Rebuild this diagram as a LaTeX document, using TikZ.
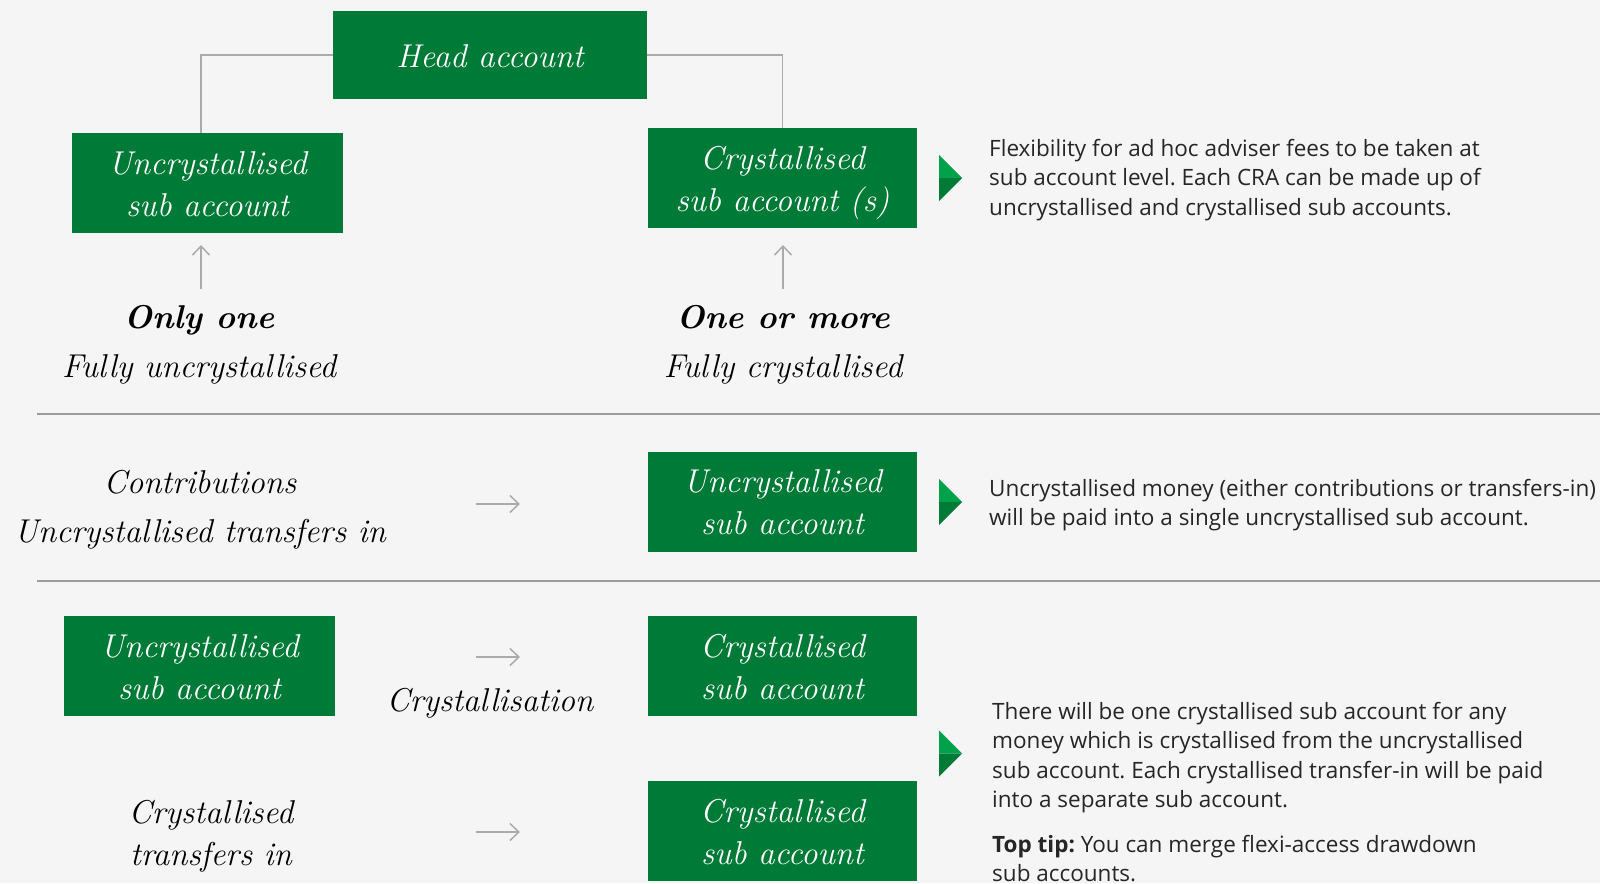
\documentclass[tikz,border=0pt]{standalone}
\usepackage{fontspec}
\newfontfamily\notefont{Open Sans}
\usetikzlibrary{arrows.meta}
\definecolor{acctgreen}{HTML}{007A37}
\definecolor{tipgreen}{HTML}{00A14B}
\definecolor{paper}{HTML}{F5F5F5}
\definecolor{linegrey}{HTML}{ABABAB}
\definecolor{rulegrey}{HTML}{9C9C9C}
\newcommand\toprow{\rule{0pt}{36pt}}
\newcommand\lowrow{\rule[-12pt]{0pt}{12pt}}
\tikzset{
  acct/.style={fill=acctgreen, text=white, minimum width=269pt, minimum height=100pt,
    inner sep=0pt, align=center, font=\fontsize{33}{42}\selectfont\itshape},
  flowtext/.style={align=center, inner sep=0pt, font=\fontsize{33}{49}\selectfont\itshape},
  note/.style={anchor=north west, align=left, inner sep=0pt, text=black!85,
    font=\fontsize{22.5}{29.5}\selectfont\notefont},
  wire/.style={draw=linegrey, line width=1.5pt},
  arr/.style={wire, -{Straight Barb[length=9pt,width=17pt]}},
  sepline/.style={draw=rulegrey, line width=2pt},
  marker/.pic={
    \fill[tipgreen] (0,-23) -- (23,0) -- (0,0) -- cycle;
    \fill[acctgreen] (0,0) -- (23,0) -- (0,23) -- cycle;
  },
}
\begin{document}
\frenchspacing
\begin{tikzpicture}[x=1pt,y=-1pt]
\fill[paper] (0,0) rectangle (1600,883);
\useasboundingbox (0,0) rectangle (1600,883);

% head account and its two sub accounts
\node[acct, minimum width=314pt, minimum height=88pt] (head) at (490,55) {\toprow Head account\lowrow};
\node[acct, minimum width=271pt] (ucsub) at (207.5,183) {\toprow Uncrystallised\\sub account\lowrow};
\node[acct] (crsub) at (782.5,178) {\toprow Crystallised\\sub account (s)\lowrow};
\draw[wire] (head.west) -| ([xshift=-6.5pt]ucsub.north);
\draw[wire] (head.east) -| (crsub.north);

\node[flowtext, font=\fontsize{33}{49}\selectfont\bfseries\itshape] (onlyone) at (199,320) {Only one};
\node[flowtext] (fullyunc) at (199,369) {Fully uncrystallised};
\node[flowtext, font=\fontsize{33}{49}\selectfont\bfseries\itshape] (oneormore) at (783,317) {One or more};
\node[flowtext] (fullycry) at (783,369) {Fully crystallised};
\coordinate (up1s) at (201,289);
\coordinate (up1e) at (201,245);
\coordinate (up2s) at (783,289);
\coordinate (up2e) at (783,245);
\draw[arr] (up1s) -- (up1e);
\draw[arr] (up2s) -- (up2e);

\pic at (939,178) {marker};
\node[note] (note1) at (989,139) {Flexibility for ad hoc adviser fees to be taken at\\
  sub account level. Each CRA can be made up of\\
  uncrystallised and crystallised sub accounts.};

\draw[sepline] (37,414) -- (1600,414);

% money paid in
\node[flowtext] (contrib) at (200,509.5) {Contributions\\Uncrystallised transfers in};
\node[acct] (ucsub2) at (782.5,501.5) {\toprow Uncrystallised\\sub account\lowrow};
\coordinate (in1s) at (476,504);
\coordinate (in1e) at (520,504);
\draw[arr] (in1s) -- (in1e);
\pic at (939,502) {marker};
\node[note] (note2) at (989,479) {Uncrystallised money (either contributions or transfers-in)\\
  will be paid into a single uncrystallised sub account.};

\draw[sepline] (37,581) -- (1600,581);

% crystallisation
\node[acct, minimum width=271pt] (ucsub3) at (199.5,666) {\toprow Uncrystallised\\sub account\lowrow};
\node[acct] (crsub3) at (782.5,666) {\toprow Crystallised\\sub account\lowrow};
\node[flowtext] (crystn) at (490,703) {Crystallisation};
\coordinate (in2s) at (476,657);
\coordinate (in2e) at (520,657);
\draw[arr] (in2s) -- (in2e);

\node[flowtext, font=\fontsize{33}{42}\selectfont\itshape] (crtin) at (211,836.5) {Crystallised\\transfers in};
\node[acct] (crsub4) at (782.5,831) {\toprow Crystallised\\sub account\lowrow};
\coordinate (in3s) at (476,832);
\coordinate (in3e) at (520,832);
\draw[arr] (in3s) -- (in3e);

\pic at (939,753.5) {marker};
\node[note] (note3) at (992,702) {There will be one crystallised sub account for any\\
  money which is crystallised from the uncrystallised\\
  sub account. Each crystallised transfer-in will be paid\\
  into a separate sub account.\\[15pt]
  \textbf{Top tip:} You can merge flexi-access drawdown\\
  sub accounts.};
\end{tikzpicture}
\end{document}
